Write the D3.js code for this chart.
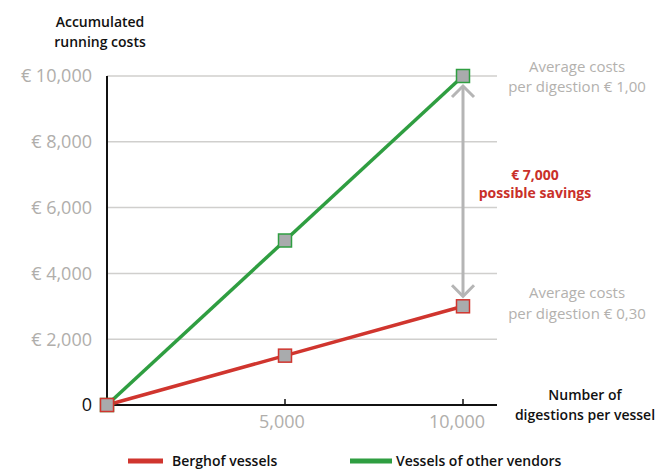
<!DOCTYPE html>
<html>
<head>
<meta charset="utf-8">
<script src="https://cdn.jsdelivr.net/npm/d3@7"></script>
<style>
  body { margin: 0; background: #fff; }
  text { font-family: "Open Sans", "Noto Sans", sans-serif; }
</style>
</head>
<body>
<svg id="chart"></svg>
<script>
// data
const digestions = [0, 5000, 10000]
const berghofCosts = [0, 1500, 3000]
const otherCosts = [0, 5000, 10000]
const yTicks = [2000, 4000, 6000, 8000, 10000]
const xTicks = [5000, 10000]
const seriesNames = ['Berghof vessels', 'Vessels of other vendors']

const W = 657, H = 470
const red = '#d0352e', green = '#2f9e41'

const svg = d3.select('#chart').attr('width', W).attr('height', H)

const x = d3.scaleLinear().domain([0, 10000]).range([107, 463])
const y = d3.scaleLinear().domain([0, 10000]).range([405, 76])
const rightEdge = 497

// gridlines
svg.append('g').selectAll('line').data(yTicks).join('line')
  .attr('x1', x(0)).attr('x2', rightEdge)
  .attr('y1', d => y(d)).attr('y2', d => y(d))
  .attr('stroke', '#d0cfcd').attr('stroke-width', 1.5)

// y labels
const fmt = d3.format(',')
svg.append('g').selectAll('text').data(yTicks).join('text')
  .attr('x', 92).attr('y', d => y(d)).attr('dy', '0.36em')
  .attr('text-anchor', 'end').attr('font-size', 18).attr('fill', '#b0aeab')
  .text(d => '€ ' + fmt(d))
svg.append('text').attr('x', 92).attr('y', y(0)).attr('dy', '0.36em')
  .attr('text-anchor', 'end').attr('font-size', 18).attr('fill', '#111').text('0')

// x axis
svg.append('line').attr('x1', x(0)).attr('x2', rightEdge).attr('y1', y(0)).attr('y2', y(0))
  .attr('stroke', '#111').attr('stroke-width', 2)
svg.append('g').selectAll('line').data(xTicks).join('line')
  .attr('x1', d => x(d)).attr('x2', d => x(d)).attr('y1', y(0)).attr('y2', y(0) - 6)
  .attr('stroke', '#111').attr('stroke-width', 1.5)
svg.append('g').selectAll('text').data(xTicks).join('text')
  .attr('x', d => x(d) - 6 * (d / 10000)).attr('y', 428).attr('text-anchor', 'middle')
  .attr('font-size', 18).attr('fill', '#b0aeab').text(d => fmt(d))

// y axis
svg.append('line').attr('x1', x(0)).attr('x2', x(0)).attr('y1', y(10000)).attr('y2', y(0))
  .attr('stroke', '#111').attr('stroke-width', 2)

// arrow between the end points
const ax = x(10000), aTop = y(otherCosts[2]) + 10, aBot = y(berghofCosts[2]) - 10
svg.append('line').attr('x1', ax).attr('x2', ax).attr('y1', aTop).attr('y2', aBot)
  .attr('stroke', '#b5b5b5').attr('stroke-width', 3)
svg.append('path').attr('d', `M${ax - 11},${aTop + 11}L${ax},${aTop}L${ax + 11},${aTop + 11}`)
  .attr('fill', 'none').attr('stroke', '#b5b5b5').attr('stroke-width', 3)
svg.append('path').attr('d', `M${ax - 11},${aBot - 11}L${ax},${aBot}L${ax + 11},${aBot - 11}`)
  .attr('fill', 'none').attr('stroke', '#b5b5b5').attr('stroke-width', 3)

// lines
const line = d3.line().x((d, i) => x(digestions[i])).y(d => y(d))
const series = [
  { vals: otherCosts, color: green },
  { vals: berghofCosts, color: red }
]
series.forEach(s => {
  svg.append('path').datum(s.vals).attr('d', line)
    .attr('fill', 'none').attr('stroke', s.color).attr('stroke-width', 3.5)
})
series.forEach(s => {
  svg.append('g').selectAll('rect').data(s.vals).join('rect')
    .attr('x', (d, i) => x(digestions[i]) - 6.5).attr('y', d => y(d) - 6.5)
    .attr('width', 13).attr('height', 13)
    .attr('fill', '#a9abad').attr('stroke', s.color).attr('stroke-width', 1.5)
})

// annotations
function label(lines, cx, ys, color, weight, size) {
  const t = svg.append('text').attr('text-anchor', 'middle')
    .attr('font-size', size).attr('fill', color).attr('font-weight', weight)
  lines.forEach((l, i) => t.append('tspan').attr('x', cx).attr('y', ys[i]).text(l))
}
label(['Average costs', 'per digestion € 1,00'], 577, [72, 92], '#b3b1ae', 400, 15)
label(['€ 7,000', 'possible savings'], 535, [180, 198], '#c9302a', 700, 14)
label(['Average costs', 'per digestion € 0,30'], 577, [298, 319], '#b3b1ae', 400, 15)
label(['Number of', 'digestions per vessel'], 585, [400, 420], '#111', 600, 14)
label(['Accumulated', 'running costs'], 100, [27, 47], '#111', 600, 14)

// legend
svg.append('line').attr('x1', 128).attr('x2', 163).attr('y1', 461).attr('y2', 461)
  .attr('stroke', red).attr('stroke-width', 5)
svg.append('text').attr('x', 172).attr('y', 466).attr('font-size', 14).attr('font-weight', 600)
  .attr('fill', '#111').text(seriesNames[0])
svg.append('line').attr('x1', 350).attr('x2', 392).attr('y1', 461).attr('y2', 461)
  .attr('stroke', green).attr('stroke-width', 5)
svg.append('text').attr('x', 396).attr('y', 466).attr('font-size', 14).attr('font-weight', 600)
  .attr('fill', '#111').text(seriesNames[1])
</script>
</body>
</html>
